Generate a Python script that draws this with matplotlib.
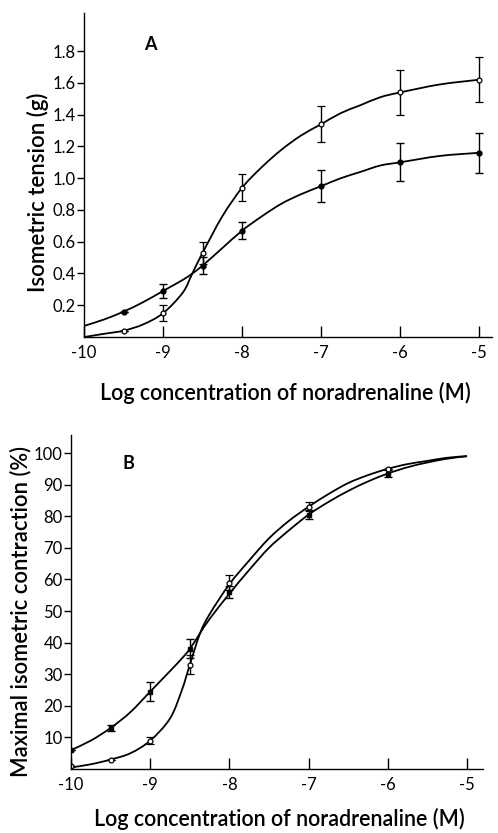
import matplotlib
matplotlib.use('Agg')
import matplotlib.pyplot as plt
from matplotlib.path import Path
from matplotlib.patches import PathPatch

plt.rcParams['font.family'] = ['Lato', 'DejaVu Sans']

# ---- panel A: isometric tension (g)
x_pts = [-9.5, -9, -8.5, -8, -7, -6, -5]
a_open = [0.04, 0.15, 0.53, 0.94, 1.34, 1.54, 1.62]
a_open_err = [0.0, 0.05, 0.07, 0.085, 0.115, 0.14, 0.14]
a_fill = [0.16, 0.29, 0.45, 0.67, 0.95, 1.10, 1.16]
a_fill_err = [0.0, 0.045, 0.055, 0.055, 0.10, 0.12, 0.125]

# fitted curves
a_curve_x = [-10, -9.75, -9.5, -9.25, -9, -8.75, -8.63, -8.5, -8.25, -8, -7.75, -7.5,
             -7.25, -7, -6.75, -6.5, -6.25, -6, -5.5, -5]
a_open_curve = [0.0, 0.02, 0.04, 0.08, 0.15, 0.28, 0.40, 0.53, 0.76, 0.94, 1.07, 1.18,
                1.27, 1.34, 1.41, 1.46, 1.51, 1.54, 1.59, 1.62]
a_fill_curve = [0.07, 0.11, 0.16, 0.22, 0.29, 0.36, 0.40, 0.45, 0.56, 0.67, 0.76, 0.84,
                0.90, 0.95, 1.00, 1.04, 1.08, 1.10, 1.14, 1.16]

# ---- panel B: % of maximal contraction
b_x_pts = [-10, -9.5, -9, -8.5, -8, -7, -6]
b_open = [1, 3, 9, 33, 59, 83, 95]
b_open_err = [0, 0, 1, 3, 2.5, 1.5, 0]
b_fill = [6, 13, 24.5, 38, 56, 80.5, 93.5]
b_fill_err = [0, 1, 3, 3, 2, 1.5, 1]

b_curve_x = [-10, -9.75, -9.5, -9.25, -9, -8.75, -8.6, -8.5, -8.37, -8.25, -8, -7.75,
             -7.5, -7.25, -7, -6.75, -6.5, -6.25, -6, -5.75, -5.5, -5.25, -5]
b_open_curve = [0.5, 1.5, 3, 5, 9, 16, 25, 33, 43, 49, 58.5, 66,
                73, 78.5, 83, 87, 90.5, 93, 95, 96.5, 97.5, 98.5, 99]
b_fill_curve = [6, 9, 13, 18, 24.5, 31, 35, 38, 43, 47.5, 55.5, 63,
                70, 75.5, 80.5, 84.5, 88, 91, 93.5, 95.5, 97, 98.2, 99]

xticks = [-10, -9, -8, -7, -6, -5]
xlabel = 'Log concentration of noradrenaline (M)'

fig = plt.figure(figsize=(4.98, 8.33), dpi=100)


def smooth_line(ax, xs, ys):
    # draw a smooth line through the read points (Catmull-Rom as bezier segments)
    verts = [(xs[0], ys[0])]
    codes = [Path.MOVETO]
    n = len(xs)
    for i in range(n - 1):
        x0, y0 = (xs[i - 1], ys[i - 1]) if i > 0 else (xs[i], ys[i])
        x1, y1 = xs[i], ys[i]
        x2, y2 = xs[i + 1], ys[i + 1]
        x3, y3 = (xs[i + 2], ys[i + 2]) if i + 2 < n else (x2, y2)
        c1 = (x1 + (x2 - x0) / 6, y1 + (y2 - y0) / 6)
        c2 = (x2 - (x3 - x1) / 6, y2 - (y3 - y1) / 6)
        verts += [c1, c2, (x2, y2)]
        codes += [Path.CURVE4] * 3
    ax.add_patch(PathPatch(Path(verts, codes), fill=False, edgecolor='black', lw=1.3))


def style(ax):
    for s in ['top', 'right']:
        ax.spines[s].set_visible(False)
    for s in ['left', 'bottom']:
        ax.spines[s].set_linewidth(1.0)
    ax.set_xticks(xticks)
    ax.set_xticklabels([str(t) for t in xticks])
    ax.tick_params(axis='x', direction='in', length=8, width=1, labelsize=12, pad=6)
    ax.tick_params(axis='y', direction='out', length=5, width=1, labelsize=12, pad=1)
    ax.set_xlabel(xlabel, fontsize=15.5, fontweight='semibold', va='top')


axA = fig.add_axes([0.1687, 0.5954, 0.819, 0.389])
smooth_line(axA, a_curve_x, a_open_curve)
smooth_line(axA, a_curve_x, a_fill_curve)
axA.errorbar(x_pts, a_open, yerr=a_open_err, fmt='o', ms=3.5, mfc='white', mec='black',
             ecolor='black', elinewidth=1, capsize=3, mew=0.9)
axA.errorbar(x_pts, a_fill, yerr=a_fill_err, fmt='o', ms=3.5, mfc='black', mec='black',
             ecolor='black', elinewidth=1, capsize=3)
axA.set_xlim(-10, -4.84)
axA.set_ylim(0, 2.04)
axA.set_yticks([0.2, 0.4, 0.6, 0.8, 1.0, 1.2, 1.4, 1.6, 1.8])
axA.set_yticklabels(['0.2', '0.4', '0.6', '0.8', '1.0', '1.2', '1.4', '1.6', '1.8'])
style(axA)
axA.set_ylabel('Isometric tension (g)', fontsize=16, fontweight='semibold')
axA.yaxis.set_label_coords(-0.085, 0.448)
axA.xaxis.set_label_coords(0.493, -0.14)
axA.text(-9.16, 1.84, 'A', fontsize=13, fontweight='bold', ha='center', va='center')

axB = fig.add_axes([0.1426, 0.0768, 0.827, 0.401])
smooth_line(axB, b_curve_x, b_open_curve)
smooth_line(axB, b_curve_x, b_fill_curve)
axB.errorbar(b_x_pts, b_open, yerr=b_open_err, fmt='o', ms=3.5, mfc='white', mec='black',
             ecolor='black', elinewidth=1, capsize=3, mew=0.9)
axB.errorbar(b_x_pts, b_fill, yerr=b_fill_err, fmt='s', ms=3.5, mfc='black', mec='black',
             ecolor='black', elinewidth=1, capsize=3)
axB.set_xlim(-10, -4.8)
axB.set_ylim(0, 105.7)
axB.set_yticks(list(range(10, 101, 10)))
style(axB)
axB.set_ylabel('Maximal isometric contraction (%)', fontsize=15.8, fontweight='semibold')
axB.yaxis.set_label_coords(-0.097, 0.473)
axB.xaxis.set_label_coords(0.507, -0.115)
axB.text(-9.27, 96.8, 'B', fontsize=13, fontweight='bold', ha='center', va='center')

fig.savefig('out.png', dpi=100)
